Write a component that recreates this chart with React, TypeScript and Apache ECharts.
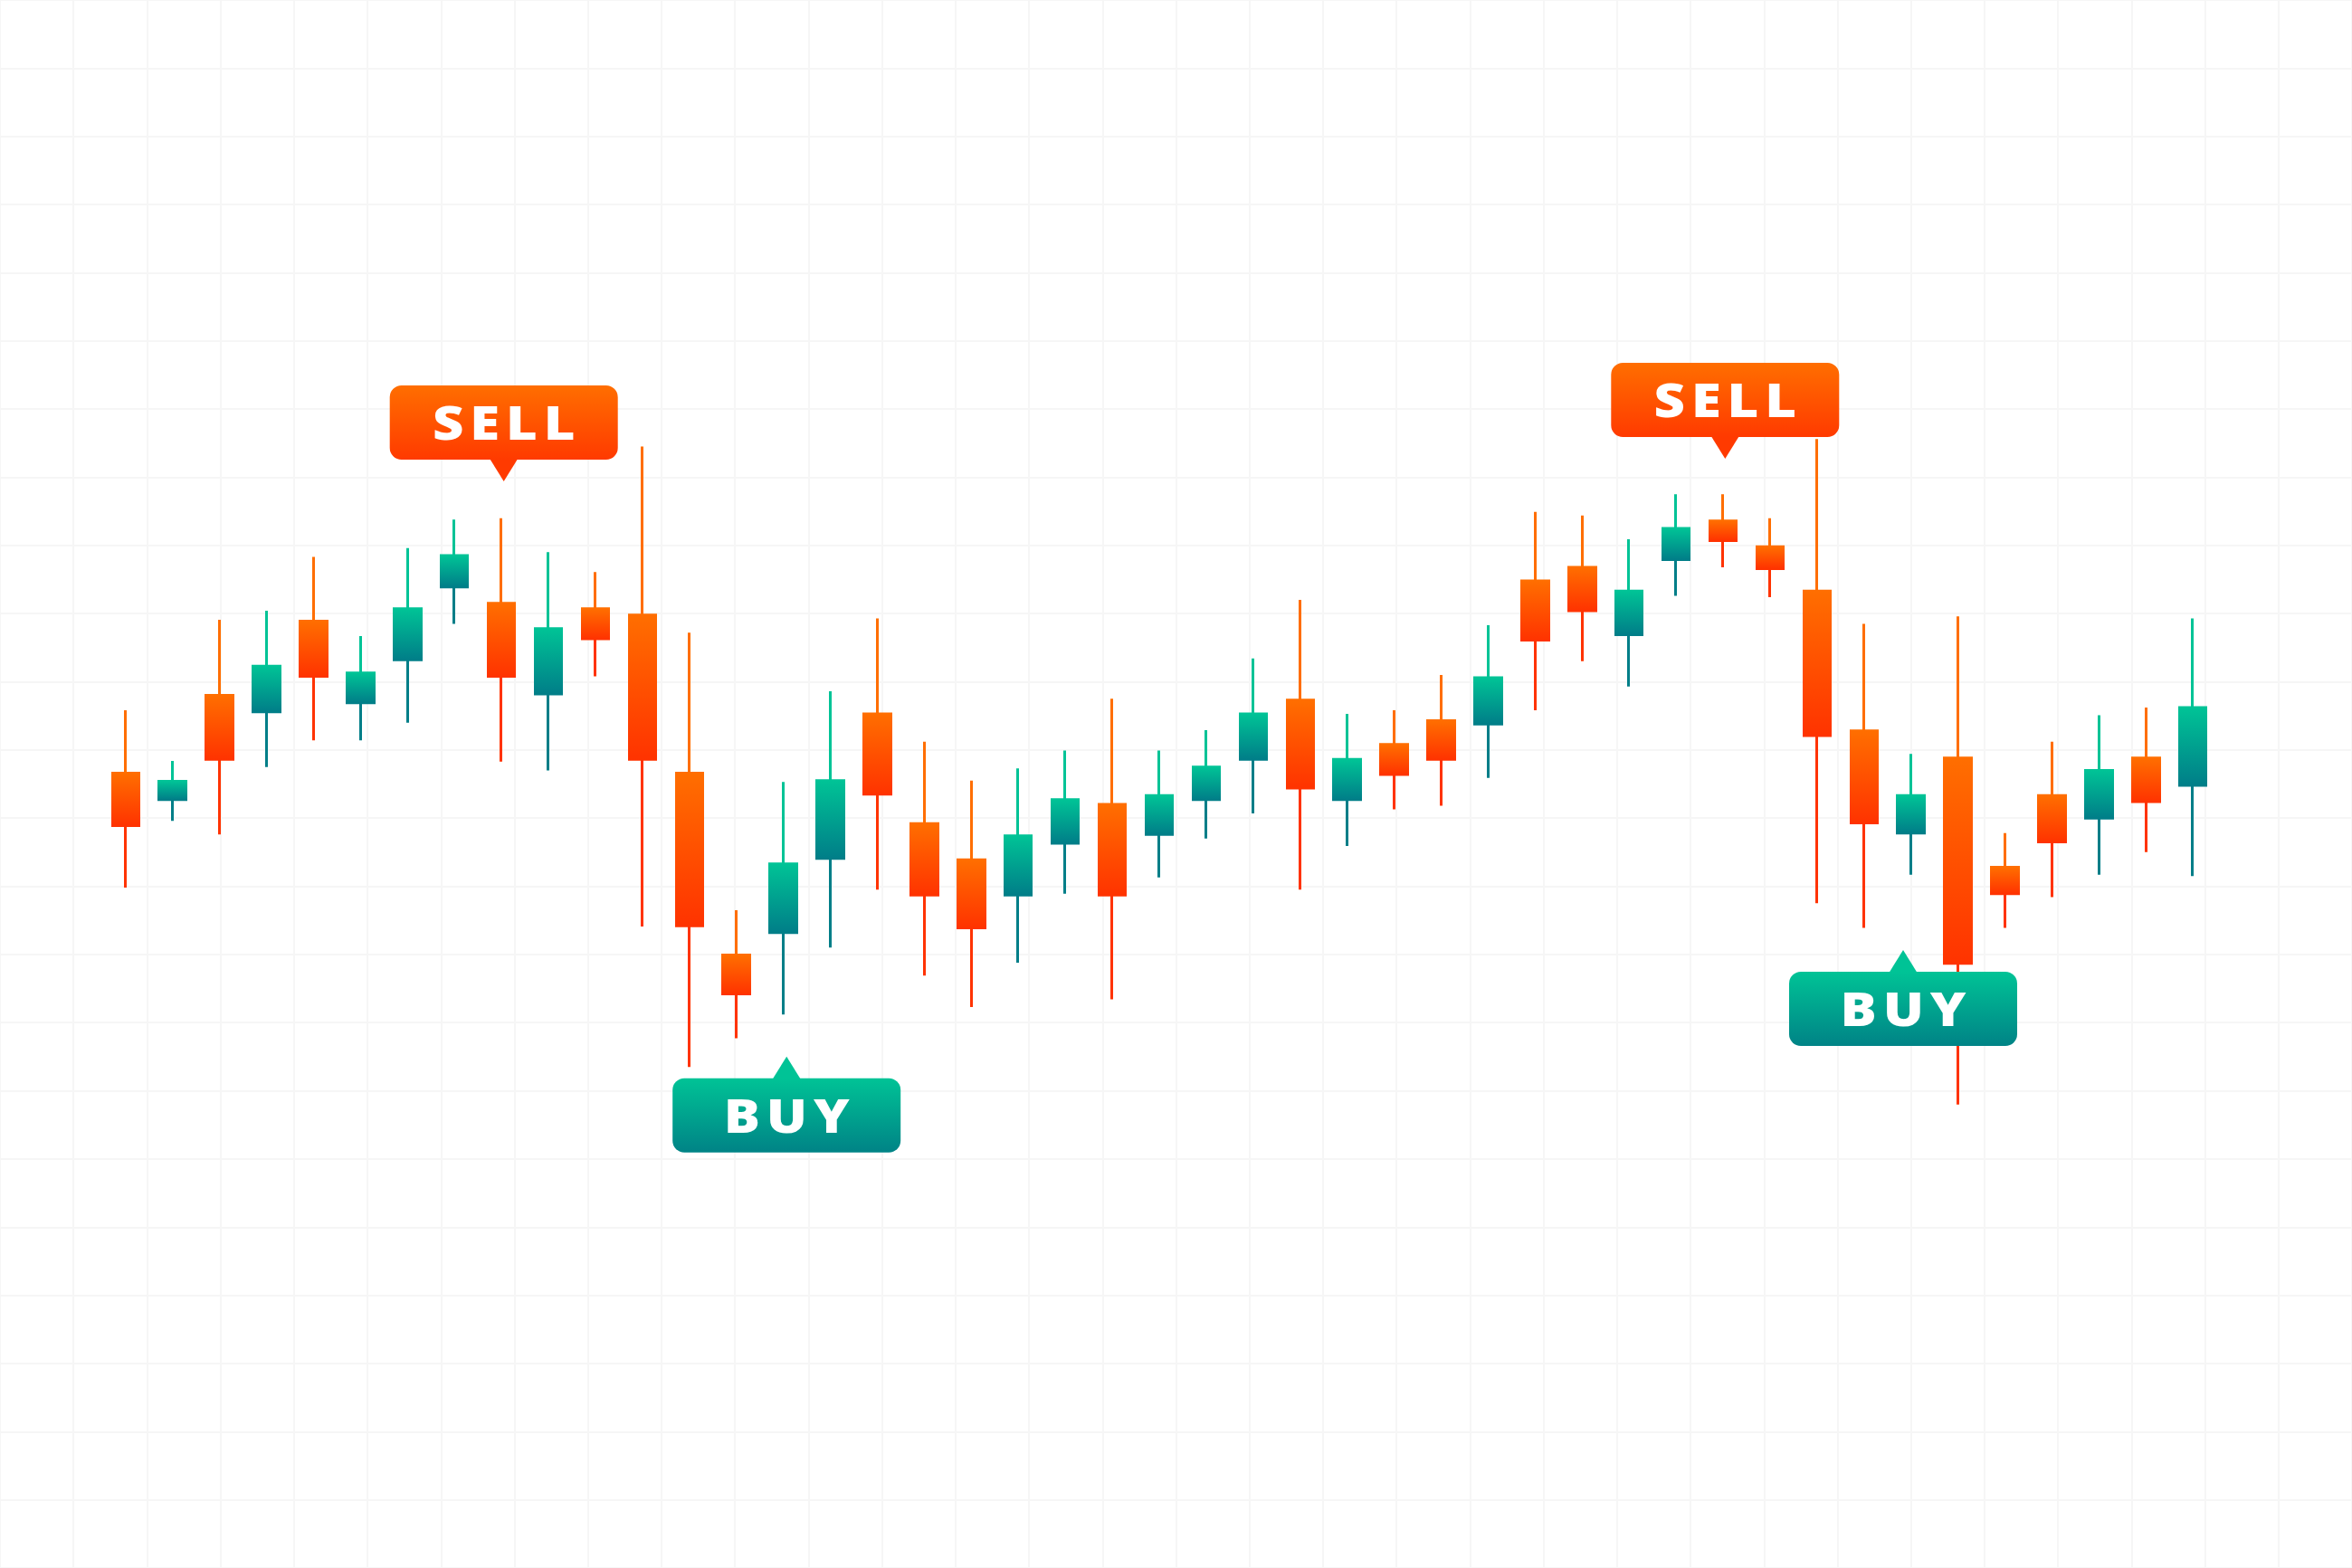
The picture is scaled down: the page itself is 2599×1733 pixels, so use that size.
import React, { useEffect, useRef } from "react";
import * as echarts from "echarts";

// ---- Data (price units: 10 per background grid row) ----
const categories = [
  "1", "2", "3", "4", "5", "6", "7", "8", "9", "10",
  "11", "12", "13", "14", "15", "16", "17", "18", "19", "20",
  "21", "22", "23", "24", "25", "26", "27", "28", "29", "30",
  "31", "32", "33", "34", "35", "36", "37", "38", "39", "40",
  "41", "42", "43", "44", "45",
];
const opens = [
  116.6, 112.7, 128.0, 125.6, 138.9, 126.9, 133.2, 143.9, 141.5, 128.2,
  140.7, 139.8, 116.6, 89.9, 93.2, 104.1, 125.3, 109.2, 103.9, 98.7,
  106.3, 112.0, 107.6, 112.7, 118.6, 127.3, 112.7, 120.8, 124.3, 123.8,
  144.8, 146.8, 136.9, 147.9, 153.6, 149.8, 143.3, 122.8, 107.8, 118.8,
  102.8, 113.3, 110.0, 118.8, 114.8,
];
const closes = [
  108.9, 115.4, 118.6, 132.3, 130.8, 131.3, 140.7, 148.5, 130.8, 137.8,
  136.3, 118.6, 94.2, 84.2, 103.3, 115.5, 113.5, 98.7, 93.9, 107.4,
  112.7, 98.7, 113.3, 117.5, 125.3, 114.4, 118.6, 116.4, 118.6, 130.6,
  136.1, 140.4, 143.3, 152.5, 150.7, 146.6, 122.1, 109.3, 113.3, 88.7,
  98.9, 106.5, 117.0, 112.4, 126.2,
];
const lows = [
  99.8, 109.6, 107.6, 117.5, 121.4, 121.4, 124.0, 138.5, 118.3, 117.0,
  130.8, 94.1, 73.5, 77.7, 81.2, 91.0, 99.5, 86.9, 82.3, 88.8,
  98.9, 83.4, 101.3, 107.0, 110.7, 99.5, 105.9, 111.3, 111.8, 115.9,
  125.8, 133.0, 129.3, 142.6, 146.8, 142.4, 97.5, 93.9, 101.7, 68.0,
  93.9, 98.4, 101.7, 105.0, 101.5,
];
const highs = [
  125.8, 118.4, 139.1, 140.4, 148.3, 136.7, 149.6, 153.8, 154.0, 149.0,
  146.1, 164.5, 137.2, 96.5, 115.3, 128.6, 139.3, 121.2, 115.5, 117.3,
  119.9, 127.5, 119.9, 122.9, 133.4, 142.0, 125.3, 125.8, 131.0, 138.3,
  154.9, 154.4, 150.9, 157.5, 157.5, 154.0, 165.6, 138.5, 119.4, 139.6,
  107.8, 121.2, 125.1, 126.2, 139.3,
];

// Signal callouts
const signalTexts = ["SELL", "BUY", "SELL", "BUY"];
const signalKinds = ["sell", "buy", "sell", "buy"];

// ---- Styling ----
const ORANGE_TOP = "#ff6e00";
const ORANGE_BOTTOM = "#ff3300";
const GREEN_TOP = "#00c396";
const GREEN_BOTTOM = "#007e88";
const GRID_LINE = "#f6f6f6";

// callout layout (pixel placement of annotations: box center x, box top y)
const calloutLayout = [
  { cx: 556.7, top: 426 },
  { cx: 869.2, top: 1191.7 },
  { cx: 1906.3, top: 401 },
  { cx: 2103, top: 1074 },
];
const BOX_W = 252;
const BOX_H = 82;
const TIP_H = 24;
const TIP_HALF = 15.5;
const LETTER_SPACING = 6;
const TEXT_SCALE_X = 1.15;

function candleGradient(o: number, c: number, l: number, h: number) {
  const up = c > o;
  const top = Math.max(o, c);
  const bot = Math.min(o, c);
  const range = h - l || 1;
  const a = (h - top) / range;
  const b = (h - bot) / range;
  const ct = up ? GREEN_TOP : ORANGE_TOP;
  const cb = up ? GREEN_BOTTOM : ORANGE_BOTTOM;
  return new echarts.graphic.LinearGradient(0, 0, 0, 1, [
    { offset: 0, color: ct },
    { offset: a, color: ct },
    { offset: b, color: cb },
    { offset: 1, color: cb },
  ]);
}

export default function App() {
  const ref = useRef<HTMLDivElement>(null);

  useEffect(() => {
    if (!ref.current) return;
    const chart = echarts.init(ref.current, undefined, { renderer: "svg" });

    const data = categories.map((_, i) => {
      const g = candleGradient(opens[i], closes[i], lows[i], highs[i]);
      return {
        value: [opens[i], closes[i], lows[i], highs[i]],
        itemStyle: { color: g, color0: g, borderColor: g, borderColor0: g },
      };
    });

    const elements: any[] = [];
    signalTexts.forEach((txt, i) => {
      const { cx, top } = calloutLayout[i];
      const sell = signalKinds[i] === "sell";
      const ct = sell ? ORANGE_TOP : GREEN_TOP;
      const cb = sell ? "#ff3a00" : "#008386";
      const left = cx - BOX_W / 2;
      const bottom = top + BOX_H;
      const tipPts = sell
        ? [[cx - TIP_HALF, bottom - 1], [cx + TIP_HALF, bottom - 1], [cx, bottom + TIP_H]]
        : [[cx - TIP_HALF, top + 1], [cx + TIP_HALF, top + 1], [cx, top - TIP_H]];
      elements.push(
        {
          type: "polygon",
          z: 100,
          shape: { points: tipPts },
          style: { fill: sell ? cb : ct },
        },
        {
          type: "rect",
          z: 101,
          shape: { x: left, y: top, width: BOX_W, height: BOX_H, r: 13 },
          style: {
            fill: new echarts.graphic.LinearGradient(0, 0, 0, 1, [
              { offset: 0, color: ct },
              { offset: 1, color: cb },
            ]),
          },
        },
        {
          type: "text",
          z: 102,
          x: cx,
          y: top + BOX_H / 2 - 1,
          scaleX: TEXT_SCALE_X,
          scaleY: 1,
          style: {
            text: txt,
            x: LETTER_SPACING / 2,
            y: 0,
            fill: "#ffffff",
            fontSize: 52,
            fontWeight: 800,
            fontFamily: "'Open Sans', Lato, sans-serif",
            align: "center",
            verticalAlign: "middle",
          },
        }
      );
    });

    const hidden = {
      axisLine: { show: false },
      axisTick: { show: false },
      axisLabel: { show: false },
    };

    chart.setOption({
      animation: false,
      backgroundColor: "#ffffff",
      grid: [
        { left: 112.8, right: 149.8, top: -5.78, bottom: -4.2, containLabel: false },
        { left: -9.02, right: -7.0, top: -5.78, bottom: -4.2, containLabel: false },
      ],
      xAxis: [
        {
          type: "category",
          data: categories,
          gridIndex: 0,
          boundaryGap: true,
          splitLine: { show: false },
          ...hidden,
        },
        {
          type: "value",
          gridIndex: 1,
          min: 0,
          max: 32,
          interval: 1,
          z: 0,
          splitLine: { show: true, lineStyle: { color: GRID_LINE, width: 2 } },
          ...hidden,
        },
      ],
      yAxis: [
        {
          type: "value",
          gridIndex: 0,
          min: 0,
          max: 230,
          splitLine: { show: false },
          ...hidden,
        },
        {
          type: "value",
          gridIndex: 1,
          min: 0,
          max: 230,
          interval: 10,
          z: 0,
          splitLine: { show: true, lineStyle: { color: GRID_LINE, width: 2 } },
          ...hidden,
        },
      ],
      series: [
        {
          type: "candlestick",
          xAxisIndex: 0,
          yAxisIndex: 0,
          barWidth: 30,
          data,
          itemStyle: { borderWidth: 3 },
          z: 5,
        },
      ],
      graphic: { z: 100, elements },
    });

    return () => chart.dispose();
  }, []);

  return (
    <>
      <style>{`#candle-chart text { letter-spacing: ${LETTER_SPACING}px; }`}</style>
      <div
        id="candle-chart"
        ref={ref}
        style={{ position: "absolute", left: 0, top: 0, width: 2599, height: 1733, background: "#fff" }}
      />
    </>
  );
}
